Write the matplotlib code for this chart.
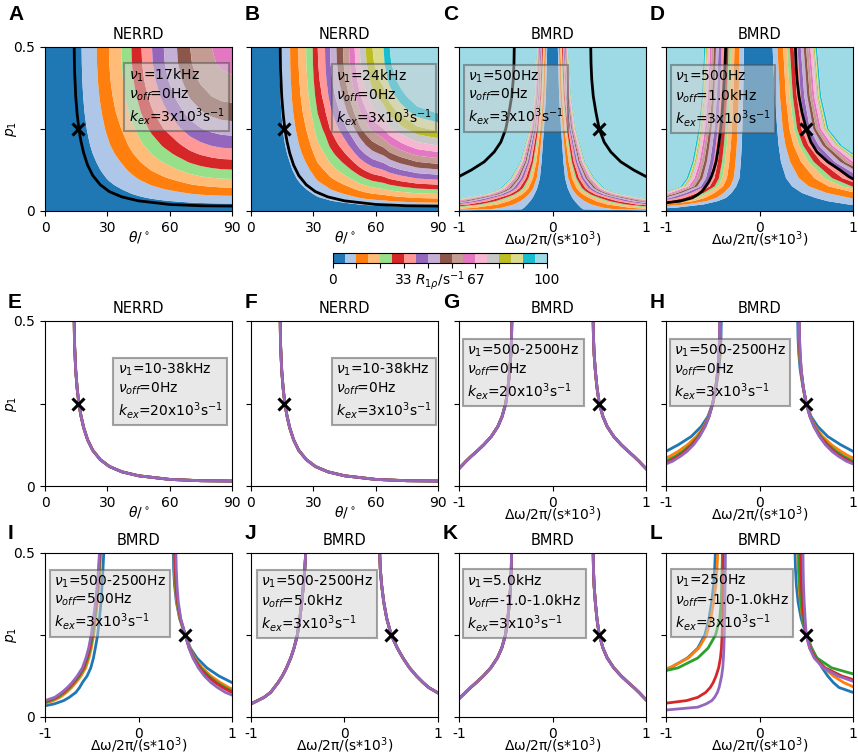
import numpy as np
import matplotlib
matplotlib.use("Agg")
import matplotlib.pyplot as plt

# ---------------------------------------------------------------- band colours
LEVELS = np.linspace(0, 100, 19)
BAND_COLORS = ['#1f77b4', '#aec7e8', '#ff7f0e', '#ffbb78', '#98df8a', '#d62728',
               '#ff9896', '#9467bd', '#c5b0d5', '#8c564b', '#c49c94', '#e377c2',
               '#f7b6d2', '#c7c7c7', '#bcbd22', '#dbdb8d', '#17becf', '#9edae5']
LINE_COLORS = ['C0', 'C1', 'C2', 'C3', 'C4']

# ---------------------------------------------------------------- NERRD maps (A, B)
MAP_P1 = [0, 0.005, 0.01, 0.015, 0.02, 0.03, 0.04, 0.05, 0.065, 0.08, 0.1,
          0.125, 0.15, 0.175, 0.2, 0.25, 0.3, 0.35, 0.4, 0.45, 0.5]
MAP_WEIGHT = [0, 0.02, 0.04, 0.059, 0.078, 0.116, 0.154, 0.19, 0.243, 0.294, 0.36,
              0.4375, 0.51, 0.578, 0.64, 0.75, 0.84, 0.91, 0.96, 0.99, 1.0]

# R1rho along the top edge (p1 = 0.5)
A_THETA = [0, 5, 10, 14, 17.7, 21, 24.9, 27.8, 30.8, 33.8, 36.7, 41.6, 46.4,
           51.5, 57.1, 63.5, 69.9, 75, 80.2, 85, 90]
A_R_TOP = [0, 0.48, 1.9, 3.7, 5.6, 8.1, 11.1, 13.7, 16.7, 19.5, 22.2, 27.8, 33.3,
           38.9, 44.4, 50.01, 55.6, 58.8, 61.1, 62.5, 63.0]
B_THETA = [0, 5, 10, 13.7, 16, 18.8, 22.8, 26.5, 29.7, 32.1, 35.6, 38.0, 41.1,
           44.3, 47.2, 49.9, 52.3, 55.2, 58.4, 63.8, 66.7, 72, 80, 90]
B_R_TOP = [0, 0.8, 3.2, 5.6, 8.2, 11.1, 16.7, 22.2, 27.8, 33.3, 38.9, 44.4, 50.01,
           55.6, 61.1, 66.7, 72.2, 77.8, 83.3, 88.9, 94.4, 101, 109, 113]

# ---------------------------------------------------------------- BMRD maps (C, D)
# inner (first) and outer (last) band edge per p1 row, |x| in kHz
FAN_FRACTION = [0, 0.108, 0.237, 0.323, 0.387, 0.473, 0.559, 0.634, 0.699, 0.753,
                0.806, 0.849, 0.892, 0.925, 0.946, 0.968, 1.0]
C_P1 = [0.0, 0.005, 0.01, 0.02, 0.03, 0.04, 0.05, 0.06, 0.07, 0.1, 0.15, 0.25, 0.35, 0.5]
C_INNER = [1.5, 0.33, 0.305, 0.27, 0.24, 0.213, 0.195, 0.178, 0.163, 0.135, 0.117,
           0.092, 0.071, 0.057]
C_OUTER = [6.0, 3.5, 2.5, 1.6, 1.2, 0.97, 0.76, 0.64, 0.56, 0.45, 0.35, 0.25, 0.2, 0.17]

D_P1 = [0.0, 0.005, 0.01, 0.02, 0.03, 0.04, 0.055, 0.075, 0.1, 0.15, 0.2, 0.25, 0.35, 0.5]
D_RIGHT_INNER = [4.0, 2.0, 1.4, 0.95, 0.73, 0.6, 0.455, 0.35, 0.285, 0.23, 0.205,
                 0.19, 0.165, 0.14]
D_RIGHT_OUTER = [12, 10, 8, 6, 5, 4.0, 2.9, 2.0, 1.56, 1.135, 0.88, 0.74, 0.66, 0.615]
D_LEFT_INNER = [4.0, 1.25, 0.9, 0.6, 0.45, 0.36, 0.3, 0.25, 0.215, 0.2, 0.19,
                0.185, 0.175, 0.167]
D_LEFT_OUTER = [12, 6, 4, 2.3, 1.55, 1.3, 1.07, 0.845, 0.78, 0.72, 0.685, 0.654,
                0.618, 0.593]

# ---------------------------------------------------------------- iso-R1rho curves
NERRD_THETA = [14.05, 14.2, 14.8, 15.5, 16.3, 17.3, 18.6, 20.5, 23, 26.6, 31, 37,
               45, 60, 75, 90]
NERRD_P1 = [0.5, 0.432, 0.348, 0.294, 0.25, 0.213, 0.177, 0.14, 0.108, 0.08, 0.059,
            0.043, 0.031, 0.02, 0.016, 0.015]

# BMRD curves: |x| (kHz) at each p1 value
BM_P1 = [0.5, 0.45, 0.4, 0.35, 0.3, 0.25, 0.21, 0.18, 0.15, 0.125, 0.105, 0.09,
         0.075, 0.06, 0.05, 0.04, 0.03, 0.02]

C_BLACK = [0.409, 0.412, 0.42, 0.436, 0.465, 0.5, 0.553, 0.624, 0.73, 0.868, 1.0,
           1.17, 1.38, 1.69, 2.0, 2.5, 3.3, 5.0]
D_BLACK_RIGHT = [0.384, 0.39, 0.402, 0.422, 0.455, 0.5, 0.55, 0.615, 0.73, 0.86,
                 0.955, 1.05, 1.2, 1.45, 1.7, 2.1, 2.8, 4.0]
D_BLACK_LEFT = [0.362, 0.368, 0.378, 0.388, 0.4, 0.416, 0.432, 0.447, 0.465, 0.49,
                0.515, 0.54, 0.575, 0.615, 0.66, 0.72, 0.85, 1.15]

G_CURVE = [0.435, 0.438, 0.445, 0.458, 0.475, 0.5, 0.54, 0.585, 0.655, 0.735, 0.81,
           0.87, 0.925, 0.975, 1.01, 1.06, 1.15, 1.3]

H_RIGHT = [
    C_BLACK,
    [0.418, 0.421, 0.428, 0.442, 0.466, 0.5, 0.545, 0.596, 0.675, 0.77, 0.87, 0.96,
     1.08, 1.26, 1.45, 1.75, 2.3, 3.4],
    [0.422, 0.425, 0.432, 0.445, 0.467, 0.5, 0.542, 0.588, 0.655, 0.735, 0.82, 0.9,
     1.0, 1.15, 1.3, 1.55, 2.0, 3.0],
    [0.424, 0.427, 0.434, 0.446, 0.468, 0.5, 0.541, 0.585, 0.647, 0.72, 0.795, 0.87,
     0.96, 1.1, 1.23, 1.45, 1.85, 2.7],
    [0.425, 0.428, 0.435, 0.447, 0.468, 0.5, 0.54, 0.582, 0.64, 0.705, 0.775, 0.845,
     0.93, 1.06, 1.18, 1.38, 1.75, 2.5],
]

I_RIGHT = [
    [0.372, 0.376, 0.386, 0.405, 0.44, 0.5, 0.555, 0.625, 0.73, 0.86, 1.0, 1.15,
     1.36, 1.65, 1.95, 2.4, 3.2, 4.8],
    [0.38, 0.384, 0.393, 0.41, 0.443, 0.5, 0.548, 0.6, 0.68, 0.775, 0.875, 0.965,
     1.08, 1.26, 1.45, 1.75, 2.3, 3.4],
    [0.385, 0.389, 0.398, 0.415, 0.446, 0.5, 0.545, 0.592, 0.665, 0.75, 0.84, 0.925,
     1.03, 1.19, 1.35, 1.6, 2.1, 3.1],
    [0.39, 0.394, 0.403, 0.419, 0.448, 0.5, 0.542, 0.588, 0.655, 0.735, 0.82, 0.9,
     1.0, 1.15, 1.3, 1.55, 2.0, 3.0],
    [0.40, 0.404, 0.412, 0.426, 0.452, 0.5, 0.54, 0.582, 0.64, 0.705, 0.775, 0.845,
     0.93, 1.06, 1.18, 1.38, 1.75, 2.5],
]
I_LEFT = [
    [0.372, 0.38, 0.39, 0.401, 0.418, 0.437, 0.462, 0.482, 0.51, 0.55, 0.6, 0.63,
     0.67, 0.74, 0.8, 0.9, 1.07, 1.35],
    [0.405, 0.413, 0.426, 0.44, 0.458, 0.48, 0.505, 0.53, 0.565, 0.615, 0.67, 0.715,
     0.77, 0.84, 0.91, 1.01, 1.17, 1.45],
    [0.41, 0.419, 0.432, 0.448, 0.467, 0.49, 0.515, 0.543, 0.58, 0.632, 0.688, 0.735,
     0.792, 0.865, 0.94, 1.04, 1.2, 1.5],
    [0.414, 0.424, 0.437, 0.454, 0.475, 0.498, 0.524, 0.552, 0.59, 0.644, 0.7, 0.75,
     0.808, 0.882, 0.97, 1.08, 1.25, 1.55],
    [0.418, 0.428, 0.442, 0.46, 0.482, 0.506, 0.533, 0.562, 0.6, 0.655, 0.71, 0.76,
     0.82, 0.895, 1.0, 1.12, 1.3, 1.6],
]

J_RIGHT_CURVE = [0.376, 0.383, 0.398, 0.42, 0.452, 0.5, 0.565, 0.625, 0.695, 0.77,
                 0.84, 0.9, 0.99, 1.1, 1.22, 1.4, 1.7, 2.3]
J_LEFT_CURVE = [0.415, 0.425, 0.44, 0.457, 0.478, 0.504, 0.54, 0.575, 0.62, 0.665,
                0.71, 0.75, 0.79, 0.86, 0.93, 1.0, 1.12, 1.35]
K_LEFT_CURVE = [0.438, 0.441, 0.448, 0.46, 0.478, 0.503, 0.543, 0.59, 0.66, 0.74,
                0.815, 0.875, 0.93, 0.985, 1.02, 1.07, 1.16, 1.3]

L_RIGHT = [
    [0.38, 0.385, 0.395, 0.413, 0.446, 0.5, 0.56, 0.61, 0.67, 0.73, 0.79, 0.85,
     1.0, 1.2, 1.4, 1.7, 2.2, 3.2],
    [0.41, 0.414, 0.422, 0.437, 0.462, 0.5, 0.555, 0.61, 0.69, 0.79, 0.9, 1.02,
     1.16, 1.35, 1.55, 1.85, 2.4, 3.5],
    [0.42, 0.423, 0.43, 0.443, 0.465, 0.5, 0.55, 0.615, 0.77, 1.08, 1.45, 1.9,
     2.5, 3.3, 4.2, 5.5, 7.5, 11],
    [0.44, 0.443, 0.449, 0.46, 0.476, 0.5, 0.54, 0.595, 0.7, 0.88, 1.1, 1.35,
     1.7, 2.2, 2.7, 3.4, 4.5, 6.5],
    [0.465, 0.467, 0.471, 0.478, 0.488, 0.5, 0.535, 0.585, 0.68, 0.84, 1.04, 1.25,
     1.55, 2.0, 2.5, 3.1, 4.1, 6.0],
]
L_LEFT = [
    [0.472, 0.48, 0.492, 0.512, 0.54, 0.585, 0.66, 0.77, 0.955, 1.28, 1.7, 2.1,
     2.7, 3.5, 4.2, 5.3, 7.0, 10.0],
    [0.447, 0.455, 0.467, 0.492, 0.52, 0.567, 0.65, 0.76, 0.96, 1.3, 1.7, 2.1,
     2.7, 3.5, 4.2, 5.3, 7.0, 10.0],
    [0.397, 0.4, 0.405, 0.41, 0.425, 0.47, 0.55, 0.66, 0.87, 1.25, 1.65, 2.0,
     2.6, 3.3, 4.0, 5.0, 6.5, 9.5],
    [0.383, 0.385, 0.387, 0.39, 0.395, 0.4, 0.407, 0.418, 0.437, 0.465, 0.495, 0.527,
     0.575, 0.66, 0.78, 1.06, 1.5, 2.3],
    [0.365, 0.366, 0.368, 0.37, 0.373, 0.377, 0.381, 0.386, 0.393, 0.405, 0.42, 0.432,
     0.45, 0.48, 0.51, 0.57, 0.66, 1.05],
]

# ---------------------------------------------------------------- panel text
LETTERS = list("ABCDEFGHIJKL")
TITLES = ["NERRD", "NERRD", "BMRD", "BMRD", "NERRD", "NERRD",
          "BMRD", "BMRD", "BMRD", "BMRD", "BMRD", "BMRD"]
NU1 = ["17kHz", "24kHz", "500Hz", "500Hz", "10-38kHz", "10-38kHz", "500-2500Hz",
       "500-2500Hz", "500-2500Hz", "500-2500Hz", "5.0kHz", "250Hz"]
NU_OFF = ["0Hz", "0Hz", "0Hz", "1.0kHz", "0Hz", "0Hz", "0Hz", "0Hz", "500Hz",
          "5.0kHz", "-1.0-1.0kHz", "-1.0-1.0kHz"]
KEX = ["3", "3", "3", "3", "20", "3", "20", "3", "3", "3", "3", "3"]
TRUE_THETA = 16.0
TRUE_DW = 0.5
TRUE_P1 = 0.25

# ---------------------------------------------------------------- layout
W, H = 858, 754
COL_LEFT = [45, 251, 459, 666]
ROW_TOP = [47, 321, 553]
ROW_H = [164, 165, 164]
AX_W = 187
BOX_POS = [(0.447, 0.881), (0.453, 0.875), (0.049, 0.871), (0.049, 0.871),
           (0.388, 0.758), (0.453, 0.758), (0.045, 0.870), (0.044, 0.870),
           (0.049, 0.877), (0.053, 0.877), (0.045, 0.881), (0.047, 0.881)]
LETTER_X = [8, 245, 443, 650]
LETTER_BASE = [20, 308, 539]


def nerrd_map(ax, theta, r_top):
    z = np.minimum(np.outer(MAP_WEIGHT, r_top), 99.9)
    cs = ax.contourf(theta, MAP_P1, z, levels=LEVELS, colors=BAND_COLORS,
                     antialiased=True)
    ax.plot(NERRD_THETA, NERRD_P1, color="k", lw=2)
    return cs


def fan_map(ax, p1, l_in, l_out, r_in, r_out):
    t = np.array(FAN_FRACTION)
    lev = LEVELS[1:-1] + 0.01
    xs = []
    for li, lo, ri, ro in zip(l_in, l_out, r_in, r_out):
        left = li + t * (lo - li)
        right = ri + t * (ro - ri)
        xs.append(np.concatenate([[-(lo + 60)], -left[::-1], [(ri - li) / 2],
                                  right, [ro + 60]]))
    xs = np.array(xs)
    zrow = np.concatenate([[99.9], lev[::-1], [0.5], lev, [99.9]])
    zs = np.tile(zrow, (len(p1), 1))
    ys = np.repeat(np.array(p1)[:, None], xs.shape[1], axis=1)
    return ax.contourf(xs, ys, zs, levels=LEVELS, colors=BAND_COLORS,
                       antialiased=True)


def bm_lines(ax, right, left, color="multi"):
    p1 = np.array(BM_P1)
    for i, (xr, xl) in enumerate(zip(right, left)):
        c = LINE_COLORS[i] if color == "multi" else color
        ax.plot(xr, p1, color=c, lw=2)
        ax.plot(-np.array(xl), p1, color=c, lw=2)


fig = plt.figure(figsize=(W / 100, H / 100), dpi=100)
axes = []
for r in range(3):
    for c in range(4):
        ax = fig.add_axes([COL_LEFT[c] / W, 1 - (ROW_TOP[r] + ROW_H[r]) / H,
                           AX_W / W, ROW_H[r] / H])
        axes.append(ax)

axA, axB, axC, axD, axE, axF, axG, axH, axI, axJ, axK, axL = axes

cs = nerrd_map(axA, A_THETA, A_R_TOP)
nerrd_map(axB, B_THETA, B_R_TOP)
fan_map(axC, C_P1, C_INNER, C_OUTER, C_INNER, C_OUTER)
bm_lines(axC, [C_BLACK], [C_BLACK], color="k")
fan_map(axD, D_P1, D_LEFT_INNER, D_LEFT_OUTER, D_RIGHT_INNER, D_RIGHT_OUTER)
bm_lines(axD, [D_BLACK_RIGHT], [D_BLACK_LEFT], color="k")

for ax in (axE, axF):
    for col in LINE_COLORS:
        ax.plot(NERRD_THETA, NERRD_P1, color=col, lw=2)

bm_lines(axG, [G_CURVE] * 5, [G_CURVE] * 5)
bm_lines(axH, H_RIGHT, H_RIGHT)
bm_lines(axI, I_RIGHT, I_LEFT)
bm_lines(axJ, [J_RIGHT_CURVE] * 5, [J_LEFT_CURVE] * 5)
bm_lines(axK, [G_CURVE] * 5, [K_LEFT_CURVE] * 5)
bm_lines(axL, L_RIGHT, L_LEFT)

for i, ax in enumerate(axes):
    nerrd = TITLES[i] == "NERRD"
    if nerrd:
        ax.set_xlim(0, 90)
        ax.set_xticks([0, 30, 60, 90])
        ax.set_xlabel(r"$\theta/^\circ$", fontsize=10, labelpad=-4)
        ax.plot(TRUE_THETA, TRUE_P1, "x", color="k", ms=9, mew=2.2, zorder=6)
    else:
        ax.set_xlim(-1, 1)
        ax.set_xticks([-1, 0, 1])
        ax.set_xticklabels(["-1", "0", "1"])
        ax.set_xlabel("Δω/2π/(s*10$^3$)", fontsize=10, labelpad=-4)
        ax.plot(TRUE_DW, TRUE_P1, "x", color="k", ms=9, mew=2.2, zorder=6)
    ax.set_ylim(0, 0.5)
    ax.set_yticks([0, 0.25, 0.5])
    if i % 4 == 0:
        ax.set_yticklabels(["0", "", "0.5"])
        ax.set_ylabel("$p_1$", fontsize=10, labelpad=-4)
    else:
        ax.set_yticklabels([])
    ax.tick_params(labelsize=10)
    ax.set_title(TITLES[i], fontsize=10.5, pad=6)
    txt = (r"$\nu_1$=" + NU1[i] + "\n" + r"$\nu_{off}$=" + NU_OFF[i] + "\n"
           + r"$k_{ex}$=" + KEX[i] + r"x10$^3$s$^{-1}$")
    ax.text(BOX_POS[i][0], BOX_POS[i][1], txt, transform=ax.transAxes,
            ha="left", va="top", fontsize=10, zorder=7,
            bbox=dict(boxstyle="square,pad=0.3", facecolor="lightgray",
                      edgecolor="0.3", alpha=0.5, lw=1.5))
    r, c = divmod(i, 4)
    fig.text(LETTER_X[c] / W, 1 - LETTER_BASE[r] / H, LETTERS[i],
             fontsize=15, fontweight="bold", va="baseline", ha="left",
             family=["Liberation Sans", "DejaVu Sans"])

# colorbar
cax = fig.add_axes([332.7 / W, 1 - 263.3 / H, 214 / W, 10 / H])
cb = fig.colorbar(cs, cax=cax, orientation="horizontal",
                  ticks=np.linspace(0, 100, 10))
cb.set_ticklabels(["0", "", "", "33", "", "", "67", "", "", "100"])
cb.ax.tick_params(labelsize=10)
cax.text(0.5, -0.6, r"$R_{1\rho}$/s$^{-1}$", transform=cax.transAxes,
         ha="center", va="top", fontsize=10)

fig.savefig("out.png", dpi=100)
